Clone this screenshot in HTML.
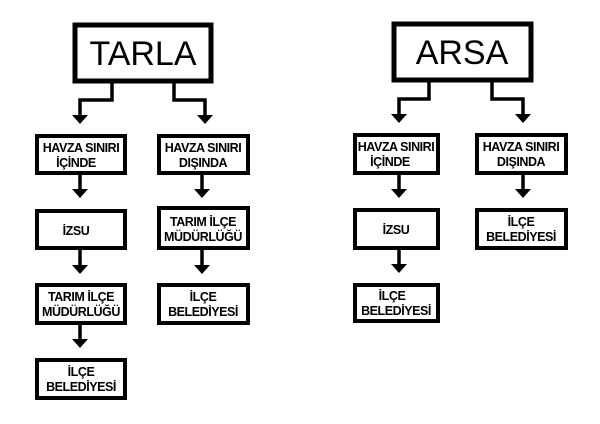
<!DOCTYPE html>
<html><head><meta charset="utf-8"><style>
html,body{margin:0;padding:0;background:#fff;}
svg{display:block}
text{font-family:"Liberation Sans",Arial,sans-serif;fill:#000;}
.s{font-weight:bold;font-size:12.5px;text-anchor:middle;letter-spacing:-0.45px;}
.t{font-size:34px;text-anchor:middle;}
</style></head><body>
<svg width="600" height="424" viewBox="0 0 600 424" xmlns="http://www.w3.org/2000/svg">
<g fill="#fff" stroke="#000">
<rect x="75" y="25" width="136" height="56" stroke-width="5"/>
<rect x="37" y="136" width="88" height="37" stroke-width="4"/>
<rect x="159" y="136" width="89" height="37" stroke-width="4"/>
<rect x="37" y="211" width="88" height="37" stroke-width="4"/>
<rect x="159" y="208" width="89" height="40" stroke-width="4"/>
<rect x="37" y="285" width="88" height="38" stroke-width="4"/>
<rect x="159" y="285" width="89" height="38" stroke-width="4"/>
<rect x="37" y="360" width="88" height="38" stroke-width="4"/>
<rect x="394" y="24" width="137" height="56" stroke-width="5"/>
<rect x="355" y="135" width="83" height="38" stroke-width="4"/>
<rect x="477" y="135" width="89" height="38" stroke-width="4"/>
<rect x="355" y="210" width="83" height="38" stroke-width="4"/>
<rect x="477" y="210" width="89" height="38" stroke-width="4"/>
<rect x="355" y="285" width="83" height="36" stroke-width="4"/>
</g>
<g fill="none" stroke="#000" stroke-width="3.5">
<polyline points="112,83 112,100 80,100 80,116"/>
<polyline points="174,83 174,100 205,100 205,116"/>
<line x1="80" y1="175" x2="80" y2="190"/>
<line x1="80" y1="250" x2="80" y2="266"/>
<line x1="80" y1="325" x2="80" y2="340"/>
<line x1="202" y1="175" x2="202" y2="190"/>
<line x1="202" y1="250" x2="202" y2="266"/>
<polyline points="429,82 429,99 399,99 399,115"/>
<polyline points="492,82 492,99 523,99 523,115"/>
<line x1="399" y1="175" x2="399" y2="190"/>
<line x1="399" y1="250" x2="399" y2="265"/>
<line x1="523" y1="175" x2="523" y2="190"/>
</g>
<g fill="#000">
<polygon points="72,115 88,115 80,124"/>
<polygon points="197,115 213,115 205,124"/>
<polygon points="72,189 88,189 80,198"/>
<polygon points="72,265 88,265 80,274"/>
<polygon points="72,339 88,339 80,348"/>
<polygon points="194,189 210,189 202,198"/>
<polygon points="194,265 210,265 202,274"/>
<polygon points="391,114 407,114 399,123"/>
<polygon points="515,114 531,114 523,123"/>
<polygon points="391,189 407,189 399,198"/>
<polygon points="391,264 407,264 399,273"/>
<polygon points="515,189 531,189 523,198"/>
</g>
<text class="t" x="143" y="65">TARLA</text>
<text class="t" x="462" y="64">ARSA</text>
<text class="s" x="81" y="152">HAVZA SINIRI</text><text class="s" x="76" y="167">İÇİNDE</text>
<text class="s" x="203" y="152">HAVZA SINIRI</text><text class="s" x="203" y="167">DIŞINDA</text>
<text class="s" x="76" y="235">İZSU</text>
<text class="s" x="203" y="226">TARIM İLÇE</text><text class="s" x="203" y="241">MÜDÜRLÜĞÜ</text>
<text class="s" x="81" y="301">TARIM İLÇE</text><text class="s" x="81" y="316">MÜDÜRLÜĞÜ</text>
<text class="s" x="203" y="301">İLÇE</text><text class="s" x="203" y="316">BELEDİYESİ</text>
<text class="s" x="81" y="376">İLÇE</text><text class="s" x="81" y="391">BELEDİYESİ</text>
<text class="s" x="396" y="151">HAVZA SINIRI</text><text class="s" x="390" y="166">İÇİNDE</text>
<text class="s" x="521" y="151">HAVZA SINIRI</text><text class="s" x="521" y="166">DIŞINDA</text>
<text class="s" x="396" y="234">İZSU</text>
<text class="s" x="521" y="226">İLÇE</text><text class="s" x="521" y="241">BELEDİYESİ</text>
<text class="s" x="392" y="300">İLÇE</text><text class="s" x="396" y="315">BELEDİYESİ</text>
</svg>
</body></html>
